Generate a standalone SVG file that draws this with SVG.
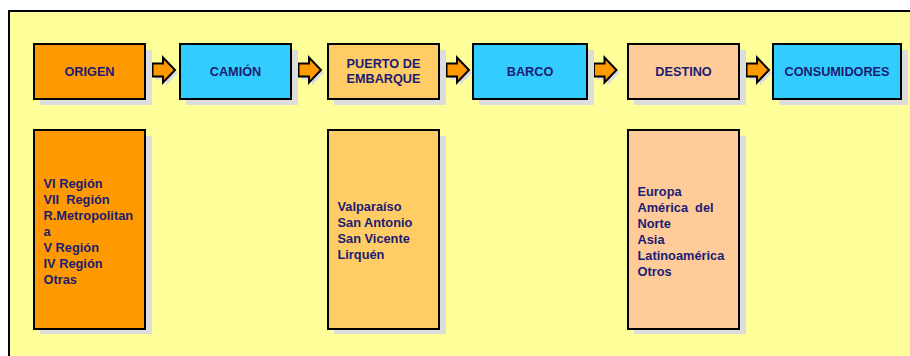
<svg xmlns="http://www.w3.org/2000/svg" width="910" height="356" viewBox="0 0 910 356">
  <style>
    .box { stroke: #000; stroke-width: 2; }
    .shadow { fill: #DDDDDD; }
    .arrow { fill: #FF9900; stroke: #000; stroke-width: 2; stroke-linejoin: miter; }
    .arrow-shadow { fill: #DDDDDD; }
    .t { font-family: "Liberation Sans", Arial, sans-serif; font-weight: bold; fill: #1C1C72; }
    .top { font-size: 12.7px; text-anchor: middle; }
    .list { font-size: 12.8px; }
  </style>
  <defs>
    <path id="arr" d="M0,63.5 H10.5 V57.5 L22.5,70 L10.5,82.5 V76.5 H0 Z"/>
  </defs>
  <rect x="0" y="0" width="910" height="356" fill="#FFFFFF"/>
  <rect x="9" y="11" width="910" height="360" fill="#FFFF99" stroke="#000" stroke-width="2"/>

  <g id="connectors">
    <use href="#arr" class="arrow-shadow" x="155.5" y="3"/>
    <use href="#arr" class="arrow" x="152.5"/>
    <use href="#arr" class="arrow-shadow" x="301.5" y="3"/>
    <use href="#arr" class="arrow" x="298.5"/>
    <use href="#arr" class="arrow-shadow" x="449.5" y="3"/>
    <use href="#arr" class="arrow" x="446.5"/>
    <use href="#arr" class="arrow-shadow" x="597" y="3"/>
    <use href="#arr" class="arrow" x="594"/>
    <use href="#arr" class="arrow-shadow" x="749.5" y="3"/>
    <use href="#arr" class="arrow" x="746.5"/>
  </g>

  <g id="origen">
    <rect class="shadow" x="40" y="50" width="112" height="55"/>
    <rect class="box" x="34" y="44" width="111" height="55" fill="#FF9900"/>
    <text class="t top" x="89.5" y="75.5">ORIGEN</text>
  </g>
  <g id="camion">
    <rect class="shadow" x="186" y="50" width="112" height="55"/>
    <rect class="box" x="180" y="44" width="111" height="55" fill="#33CCFF"/>
    <text class="t top" x="235.5" y="75.5">CAMIÓN</text>
  </g>
  <g id="puerto">
    <rect class="shadow" x="334" y="50" width="112" height="55"/>
    <rect class="box" x="328" y="44" width="111" height="55" fill="#FFCC66"/>
    <text class="t top" x="383.5" y="67.5">PUERTO DE</text>
    <text class="t top" x="383.5" y="83.3">EMBARQUE</text>
  </g>
  <g id="barco">
    <rect class="shadow" x="479" y="50" width="115" height="55"/>
    <rect class="box" x="473" y="44" width="114" height="55" fill="#33CCFF"/>
    <text class="t top" x="530" y="75.5">BARCO</text>
  </g>
  <g id="destino">
    <rect class="shadow" x="634" y="50" width="112" height="55"/>
    <rect class="box" x="628" y="44" width="111" height="55" fill="#FFCC99"/>
    <text class="t top" x="683.5" y="75.5">DESTINO</text>
  </g>
  <g id="consumidores">
    <rect class="shadow" x="779" y="50" width="129" height="55"/>
    <rect class="box" x="773" y="44" width="128" height="55" fill="#33CCFF"/>
    <text class="t top" x="837" y="75.5">CONSUMIDORES</text>
  </g>

  <g id="origen-detalle">
    <rect class="shadow" x="40" y="136" width="112" height="198"/>
    <rect class="box" x="34" y="130" width="111" height="199" fill="#FF9900"/>
    <text class="t list" x="43.5" y="187.5">VI Región</text>
    <text class="t list" x="43.5" y="203.5">VII&#160; Región</text>
    <text class="t list" x="43.5" y="219.5">R.Metropolitan</text>
    <text class="t list" x="43.5" y="235.5">a</text>
    <text class="t list" x="43.5" y="251.5">V Región</text>
    <text class="t list" x="43.5" y="267.5">IV Región</text>
    <text class="t list" x="43.5" y="283.5">Otras</text>
  </g>
  <g id="puerto-detalle">
    <rect class="shadow" x="334" y="136" width="112" height="198"/>
    <rect class="box" x="328" y="130" width="111" height="199" fill="#FFCC66"/>
    <text class="t list" x="337.5" y="210.5">Valparaíso</text>
    <text class="t list" x="337.5" y="226.5">San Antonio</text>
    <text class="t list" x="337.5" y="242.5">San Vicente</text>
    <text class="t list" x="337.5" y="258.5">Lirquén</text>
  </g>
  <g id="destino-detalle">
    <rect class="shadow" x="634" y="136" width="112" height="198"/>
    <rect class="box" x="628" y="130" width="111" height="199" fill="#FFCC99"/>
    <text class="t list" x="637.5" y="196">Europa</text>
    <text class="t list" x="637.5" y="212">América&#160; del</text>
    <text class="t list" x="637.5" y="228">Norte</text>
    <text class="t list" x="637.5" y="244">Asia</text>
    <text class="t list" x="637.5" y="260">Latinoamérica</text>
    <text class="t list" x="637.5" y="276">Otros</text>
  </g>
</svg>
